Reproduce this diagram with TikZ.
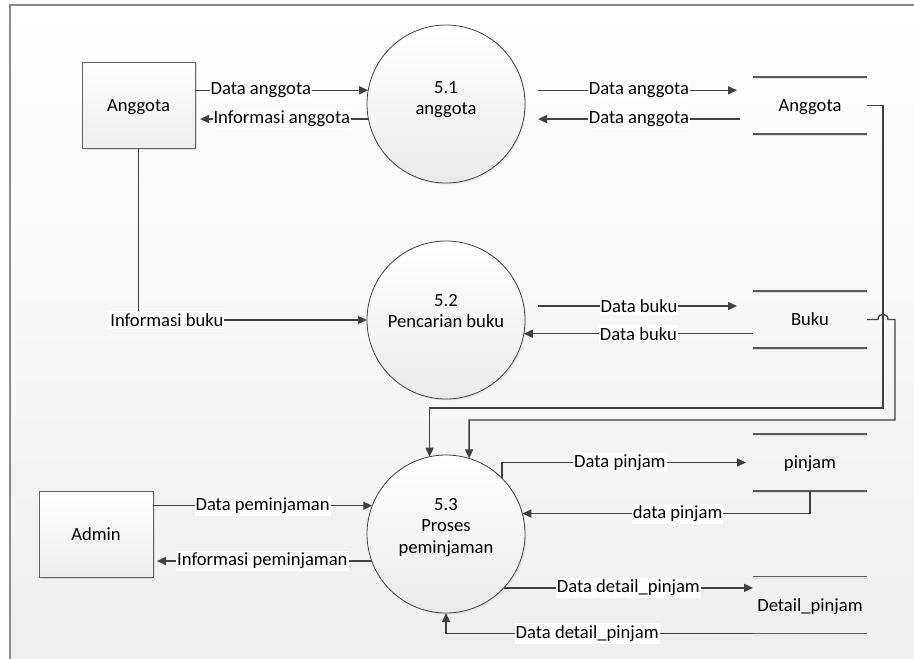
\documentclass[tikz,border=0pt]{standalone}
\usepackage{fontspec}
\setmainfont{Carlito}
\usetikzlibrary{arrows.meta,shadows}
\definecolor{lc}{HTML}{404040}
\definecolor{framec}{HTML}{8A8A8A}
\definecolor{storec}{HTML}{5A5A5A}
\newcommand\dfdfont{\fontsize{18.6}{21.5}\selectfont}
\begin{document}
\begin{tikzpicture}[x=1pt,y=-1pt,
  flow/.style={draw=lc, line width=1.4pt, -{Triangle[length=9pt,width=8pt]}},
  lbl/.style={fill=white, inner xsep=1pt, inner ysep=2pt, text=black, font=\dfdfont},
  ent/.style={draw=gray!75!black, line width=0.8pt, top color=white, bottom color=gray!14,
    minimum width=113pt, minimum height=86pt, inner sep=0pt, outer sep=0pt, font=\dfdfont,
    text height=13pt, text depth=1pt,
    drop shadow={shadow xshift=2pt, shadow yshift=-2pt, opacity=0.2}},
  proc/.style={circle, draw=lc, line width=0.8pt, minimum size=158pt, inner sep=0pt, outer sep=0pt,
    top color=white, bottom color=gray!16,
    drop shadow={shadow xshift=1.5pt, shadow yshift=-1.5pt, opacity=0.15}},
  ptext/.style={align=center, font=\dfdfont, inner sep=0pt},
  store/.style={minimum width=114pt, minimum height=57pt, inner sep=0pt, outer sep=0pt, font=\dfdfont,
    text height=13pt, text depth=1pt},
  storeline/.style={draw=storec, line width=1.3pt},
  storeshade/.style={draw=gray!25, line width=1pt}
]
\useasboundingbox (0,0) rectangle (914,659);
\fill[white] (0,0) rectangle (914,659);
\shade[top color=white, bottom color=gray!13] (10,5) rectangle (914,659);
\draw[framec, line width=1.5pt] (10,659) -- (10,5) -- (914,5);

% external entities
\node[ent] (ang) at (138.5,105) {Anggota};
\node[ent, minimum width=114pt] (adm) at (96,534) {Admin};

% processes
\node[proc] (c1) at (446,104) {};
\node[proc] (c2) at (446,320) {};
\node[proc] (c3) at (446,534) {};
\node[ptext] (t1) at (446,99.5) {5.1\\anggota};
\node[ptext] (t2) at (446,311) {5.2\\Pencarian buku};
\node[ptext] (t3) at (446,527.5) {5.3\\Proses\\peminjaman};

% data stores
\node[store] (s1) at (810,105.5) {Anggota};
\node[store] (s2) at (810,319.5) {Buku};
\node[store] (s3) at (810,462.5) {pinjam};
\node[store] (s4) at (810,605) {Detail\_pinjam};
\foreach \s in {s1,s2,s3,s4}{
  \draw[storeshade] ([yshift=-1.6pt]\s.north west) -- ([yshift=-1.6pt]\s.north east);
  \draw[storeshade] ([yshift=-1.6pt]\s.south west) -- ([yshift=-1.6pt]\s.south east);
  \draw[storeline] (\s.north west) -- (\s.north east);
  \draw[storeline] (\s.south west) -- (\s.south east);
}

% 5.1 flows
\draw[flow] (ang.east |- c1.170) -- (c1.170) node[lbl,pos=0.38]{Data anggota};
\draw[flow, shorten >=5pt] (c1.191) -- (ang.east |- c1.191) node[lbl,pos=0.5]{Informasi anggota};
\draw[flow, shorten <=13pt, shorten >=16pt] (c1.east |- c1.170) -- (s1.west |- c1.170) node[lbl,midway]{Data anggota};
\draw[flow, shorten <=13pt, shorten >=13pt] (s1.west |- c1.191) -- (c1.east |- c1.191) node[lbl,midway]{Data anggota};

% 5.2 flows
\draw[flow] (ang.south) |- (c2.west) node[lbl,pos=0.562]{Informasi buku};
\draw[flow, shorten <=13pt, shorten >=16pt] (c2.east |- 0,306) -- (s2.west |- 0,306) node[lbl,midway]{Data buku};
\draw[flow] (s2.west |- c2.350) -- (c2.350) node[lbl,midway]{Data buku};

% long connectors to 5.3
\coordinate (k1) at (883,408);
\coordinate (k2) at (895,420);
\draw[flow] (s1.east) -| (k1) -| (c3.102);
\draw[flow] (s2.east) -- (878,319.5) .. controls (878,312.5) and (888,312.5) .. (888,319.5) -| (k2) -| (c3.73);

% 5.3 flows
\draw[flow] (adm.east |- c3.159) -- (c3.159) node[lbl,midway]{Data peminjaman};
\draw[flow, shorten >=4pt] (c3.200) -- (adm.east |- c3.200) node[lbl,midway]{Informasi peminjaman};
\draw[flow, shorten >=7pt] (c3.45) |- (s3.west) node[lbl,pos=0.735]{Data pinjam};
\draw[flow] (s3.south) |- (c3.15) node[lbl,pos=0.73]{data pinjam};
\draw[flow] (c3.317) -- (s4.west |- c3.317) node[lbl,midway]{Data detail\_pinjam};
\draw[flow] (s4.south west) -| (c3.south) node[lbl,pos=0.27]{Data detail\_pinjam};
\end{tikzpicture}
\end{document}
